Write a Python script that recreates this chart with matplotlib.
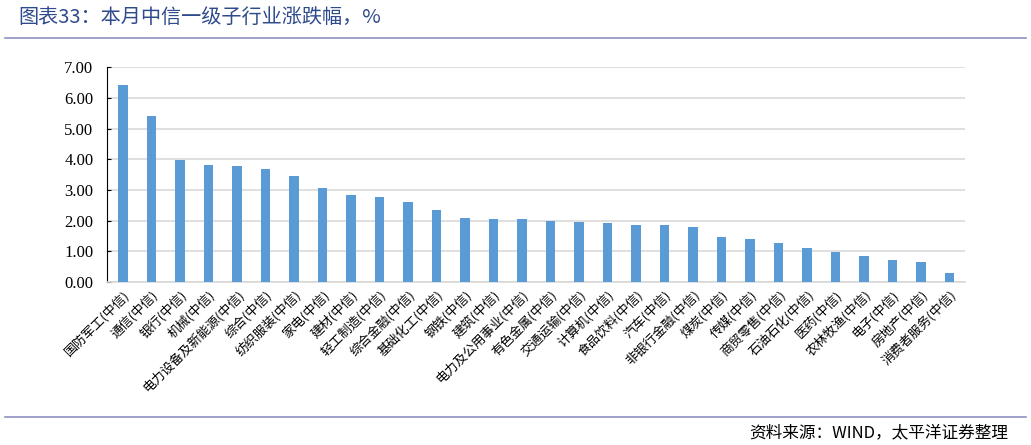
import numpy as np
from matplotlib import pyplot as plt

plt.rcParams['font.family'] = ['Noto Sans CJK SC', 'DejaVu Sans']

industries = ["国防军工", "通信", "银行", "机械", "电力设备及新能源", "综合", "纺织服装",
              "家电", "建材", "轻工制造", "综合金融", "基础化工", "钢铁", "建筑",
              "电力及公用事业", "有色金属", "交通运输", "计算机", "食品饮料", "汽车",
              "非银行金融", "煤炭", "传媒", "商贸零售", "石油石化", "医药", "农林牧渔",
              "电子", "房地产", "消费者服务"]
labels = [s + "(中信)" for s in industries]
changes = [6.43, 5.42, 3.97, 3.82, 3.79, 3.69, 3.45, 3.06, 2.83, 2.78, 2.61, 2.36,
           2.08, 2.05, 2.04, 2.00, 1.95, 1.93, 1.87, 1.85, 1.80, 1.46, 1.39, 1.28,
           1.10, 0.98, 0.85, 0.72, 0.65, 0.30]
yticks = [0, 1, 2, 3, 4, 5, 6, 7]

fig = plt.figure(figsize=(10.31, 4.45), dpi=100)

# header and footer
fig.text(0.018, 0.962, "图表33：本月中信一级子行业涨跌幅，%", color="#2f4b8c",
         fontsize=14.5, va="center", ha="left")
fig.add_artist(plt.Line2D([0.005, 0.995], [0.915, 0.915], color="#8f90c2", lw=1.2))
fig.add_artist(plt.Line2D([0.005, 0.995], [0.062, 0.062], color="#8f90c2", lw=1.2))
fig.text(0.978, 0.028, "资料来源：WIND，太平洋证券整理", fontsize=12, style="italic",
         ha="right", va="center", color="black")

ax = fig.add_axes([0.104, 0.366, 0.832, 0.483])
x = np.arange(len(changes))
ax.bar(x, changes, width=0.33, color="#5b9bd5", zorder=3)

ax.set_ylim(0, 7)
ax.set_xlim(-0.55, len(changes) - 0.45)
ax.set_yticks(yticks)
ax.set_yticklabels(["%.2f" % v for v in yticks], family="Liberation Serif", fontsize=12)
ax.yaxis.grid(True, color="#d9d9d9", lw=1.2, zorder=0)
ax.set_xticks(x)
ax.set_xticklabels(labels, rotation=45, ha="right", rotation_mode="anchor",
                   fontsize=9.3)
ax.tick_params(axis="x", length=0, pad=4)
ax.tick_params(axis="y", direction="in", length=3, color="black", pad=10)

for s in ["top", "right"]:
    ax.spines[s].set_visible(False)
ax.spines["bottom"].set_color("#d9d9d9")
ax.spines["bottom"].set_linewidth(1.2)
ax.spines["left"].set_color("black")

fig.savefig("out.png", dpi=100)
